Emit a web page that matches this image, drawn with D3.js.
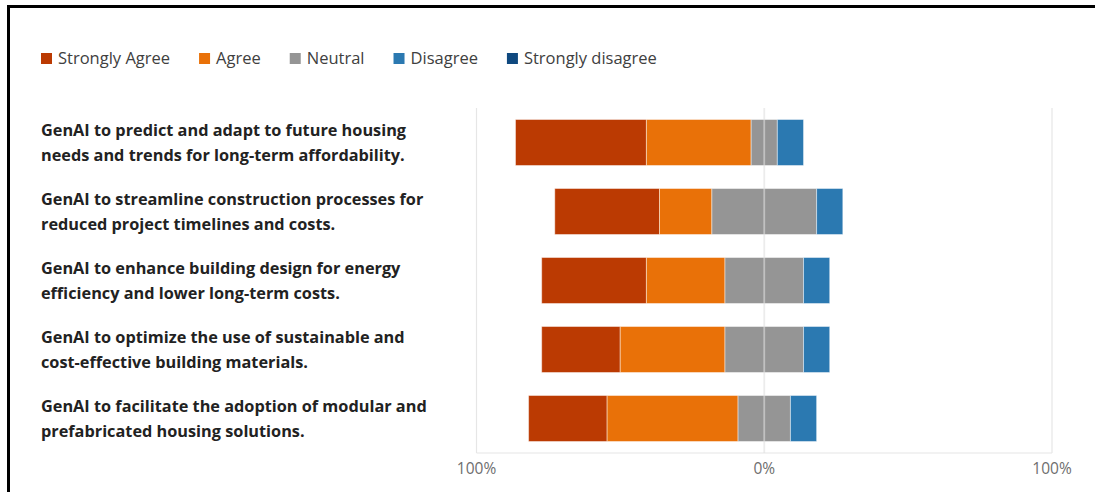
<!DOCTYPE html>
<html>
<head>
<meta charset="utf-8">
<script src="https://cdn.jsdelivr.net/npm/d3@7"></script>
<style>
  html, body { margin: 0; padding: 0; background: #fff; }
  svg { display: block; }
</style>
</head>
<body>
<svg id="chart" width="1095" height="492"></svg>
<script>
// Survey statements (line break marks where each label wraps)
const categories = [
  "GenAI to predict and adapt to future housing\nneeds and trends for long-term affordability.",
  "GenAI to streamline construction processes for\nreduced project timelines and costs.",
  "GenAI to enhance building design for energy\nefficiency and lower long-term costs.",
  "GenAI to optimize the use of sustainable and\ncost-effective building materials.",
  "GenAI to facilitate the adoption of modular and\nprefabricated housing solutions."
];

// Share of responses per statement, in percent
const stronglyAgree    = [45.5, 36.4, 36.4, 27.3, 27.3];
const agree            = [36.4, 18.2, 27.3, 36.4, 45.5];
const neutral          = [9.1, 36.4, 27.3, 27.3, 18.2];
const disagree         = [9.1, 9.1, 9.1, 9.1, 9.1];
const stronglyDisagree = [0, 0, 0, 0, 0];

const seriesNames  = ["Strongly Agree", "Agree", "Neutral", "Disagree", "Strongly disagree"];
const seriesColors = ["#bb3a02", "#e97108", "#959595", "#2b79b1", "#0f497f"];
const tickValues   = [-100, 0, 100];
const tickLabels   = ["100%", "0%", "100%"];

const series = [stronglyAgree, agree, neutral, disagree, stronglyDisagree];

const svg = d3.select("#chart");

// Frame lines along the top and left edges
svg.append("line").attr("x1", 7).attr("x2", 1095).attr("y1", 6.5).attr("y2", 6.5)
  .attr("stroke", "#000").attr("stroke-width", 3);
svg.append("line").attr("x1", 8.5).attr("x2", 8.5).attr("y1", 5).attr("y2", 492)
  .attr("stroke", "#000").attr("stroke-width", 3);

const x = d3.scaleLinear().domain([-100, 100]).range([476.5, 1052]);
const y = d3.scaleBand().domain(d3.range(categories.length))
  .range([108, 453]).paddingInner(1 / 3).paddingOuter(1 / 6);

// Grid: outer verticals and the baseline
const grid = svg.append("g");
grid.selectAll("line.v").data([-100, 100]).join("line")
  .attr("x1", d => x(d)).attr("x2", d => x(d))
  .attr("y1", 108).attr("y2", 453)
  .attr("stroke", "#e6e6e6").attr("stroke-width", 1.2);
grid.append("line")
  .attr("x1", x(-100)).attr("x2", x(100))
  .attr("y1", 453).attr("y2", 453)
  .attr("stroke", "#e6e6e6").attr("stroke-width", 1.2);

// Diverging stacks: neutral is split across the zero line
const rows = categories.map((c, i) => {
  const vals = series.map(s => s[i]);
  let start = -(vals[0] + vals[1] + vals[2] / 2);
  return vals.map((v, k) => {
    const seg = { row: i, k, x0: start, x1: start + v };
    start += v;
    return seg;
  });
});

const bars = svg.append("g");
bars.selectAll("g").data(rows).join("g")
  .selectAll("rect").data(d => d.filter(s => s.x1 > s.x0)).join("rect")
  .attr("x", d => x(d.x0))
  .attr("width", d => x(d.x1) - x(d.x0))
  .attr("y", d => y(d.row))
  .attr("height", y.bandwidth())
  .attr("fill", d => seriesColors[d.k])
  .attr("stroke", "#fff").attr("stroke-opacity", 0.45).attr("stroke-width", 1);

// Zero line on top of the bars
svg.append("line")
  .attr("x1", x(0)).attr("x2", x(0))
  .attr("y1", 108).attr("y2", 453)
  .attr("stroke", "#e0e0e0").attr("stroke-opacity", 0.6).attr("stroke-width", 1.8);

// Tick labels
svg.append("g").selectAll("text").data(tickValues).join("text")
  .attr("x", d => x(d)).attr("y", 474)
  .attr("text-anchor", "middle")
  .attr("font-family", "'Open Sans', sans-serif")
  .attr("font-size", 15.5)
  .attr("fill", "#6e6e6e")
  .text((d, i) => tickLabels[i]);

// Category labels, two lines each
const labels = svg.append("g");
categories.forEach((c, i) => {
  const lines = c.split("\n");
  const cy = y(i) + y.bandwidth() / 2;
  const t = labels.append("text")
    .attr("font-family", "'Open Sans', sans-serif")
    .attr("font-weight", 700)
    .attr("font-size", 16.3)
    .attr("fill", "#222");
  lines.forEach((ln, j) => {
    t.append("tspan").attr("x", 41).attr("y", cy - 6.5 + j * 25).text(ln);
  });
});

// Legend
const legend = svg.append("g");
let lx = 41;
seriesNames.forEach((name, k) => {
  legend.append("rect")
    .attr("x", lx).attr("y", 53).attr("width", 11).attr("height", 11)
    .attr("fill", seriesColors[k]);
  const t = legend.append("text")
    .attr("x", lx + 17).attr("y", 63.5)
    .attr("font-family", "'Open Sans', sans-serif")
    .attr("font-size", 16.5)
    .attr("fill", "#404040")
    .text(name);
  lx += 17 + t.node().getComputedTextLength() + 29;
});
</script>
</body>
</html>
